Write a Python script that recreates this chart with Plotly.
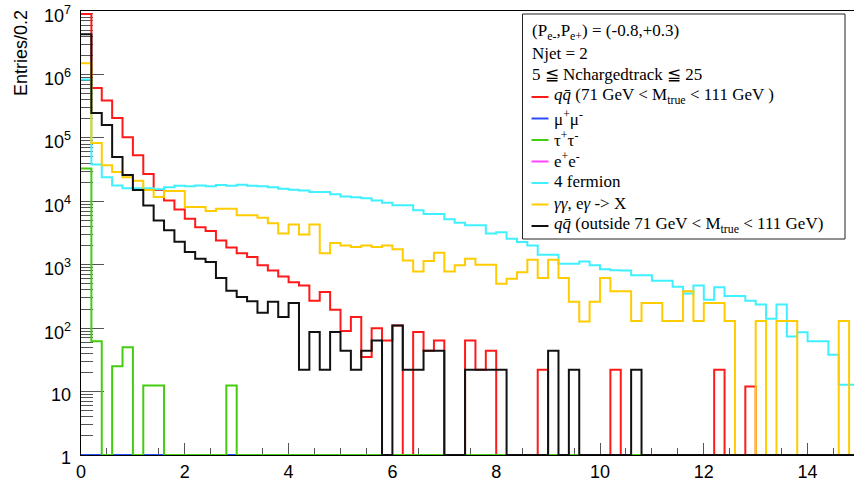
import numpy as np
import plotly.graph_objects as go

# ---------------- data (entries per 0.2 bin, 75 bins from 0 to 15) ----------------
BIN_WIDTH = 0.2
N_BINS = 75
bin_edges = np.round(np.arange(N_BINS + 1) * BIN_WIDTH, 6)

qq_inside = [
    9.0e6, 6.1e5, 3.9e5, 2.05e5, 1.02e5, 5.3e4, 2.7e4, 1.5e4, 1.03e4, 7.4e3,
    5.3e3, 3.9e3, 3.4e3, 2.4e3, 1.86e3, 1.52e3, 1.32e3, 9.8e2, 8.1e2, 6.5e2,
    5.3e2, 4.7e2, 2.7e2, 3.7e2, 1.95e2, 90, 150, 35, 100, 64,
    110, 0, 87, 44, 64, 0, 0, 64, 22, 44,
    0, 0, 0, 0, 22, 0, 0, 0, 0, 0,
    0, 22, 0, 0, 0, 0, 0, 0, 0, 0,
    0, 22, 0, 0, 12, 0, 0, 0, 0, 0,
    0, 0, 0, 0, 0,
]
mumu = [0] * N_BINS
tautau = [
    3.3e4, 62, 0, 25, 50, 0, 12.5, 12.5, 0, 0,
    0, 0, 0, 0, 12.5, 0, 0, 0, 0, 0,
] + [0] * 55
ee = [0] * N_BINS
four_fermion = [
    8.3e5, 3.8e4, 2.4e4, 1.78e4, 1.6e4, 1.6e4, 1.6e4, 1.55e4, 1.67e4, 1.76e4,
    1.72e4, 1.78e4, 1.72e4, 1.8e4, 1.76e4, 1.83e4, 1.76e4, 1.72e4, 1.67e4, 1.58e4,
    1.52e4, 1.48e4, 1.40e4, 1.40e4, 1.29e4, 1.19e4, 1.16e4, 1.12e4, 1.03e4, 9.5e3,
    8.7e3, 8.7e3, 7.2e3, 6.3e3, 6.3e3, 5.2e3, 4.6e3, 4.2e3, 4.2e3, 3.1e3,
    3.25e3, 2.57e3, 2.28e3, 2.0e3, 1.44e3, 1.44e3, 1.04e3, 1.04e3, 1.12e3, 9.8e2,
    8.5e2, 8.2e2, 8.1e2, 6.8e2, 6.8e2, 5.6e2, 5.6e2, 4.5e2, 3.5e2, 4.7e2,
    2.8e2, 4.4e2, 3.2e2, 3.2e2, 2.7e2, 2.35e2, 1.4e2, 2.35e2, 74, 86,
    62, 62, 38, 12.8, 12.8,
]
gamma_gamma = [
    1.5e6, 8.3e4, 3.7e4, 2.9e4, 2.4e4, 2.1e4, 1.5e4, 1.17e4, 1.45e4, 1.45e4,
    8.1e3, 8.1e3, 7.0e3, 7.6e3, 7.6e3, 6.0e3, 6.0e3, 5.5e3, 4.5e3, 3.1e3,
    4.3e3, 3.0e3, 4.3e3, 1.52e3, 2.2e3, 2.0e3, 1.9e3, 2.0e3, 1.9e3, 2.0e3,
    1.76e3, 1.17e3, 7.8e2, 1.14e3, 1.55e3, 7.8e2, 9.8e2, 1.24e3, 1.0e3, 1.0e3,
    5.0e2, 6.0e2, 7.6e2, 1.2e3, 6.2e2, 1.2e3, 6.2e2, 2.6e2, 1.27e2, 2.6e2,
    6.2e2, 3.8e2, 3.8e2, 1.29e2, 2.5e2, 2.5e2, 1.29e2, 1.29e2, 3.8e2, 1.29e2,
    2.5e2, 2.5e2, 1.29e2, 0, 0, 1.29e2, 0, 1.29e2, 1.29e2, 0,
    0, 0, 0, 1.29e2, 0,
]
qq_outside = [
    4.3e6, 2.46e5, 1.6e5, 5.0e4, 2.6e4, 1.5e4, 8.6e3, 5.0e3, 3.5e3, 2.3e3,
    1.58e3, 1.24e3, 1.1e3, 6.2e2, 3.9e2, 3.1e2, 2.65e2, 1.75e2, 2.6e2, 1.5e2,
    2.5e2, 22, 87, 22, 87, 44, 22, 44, 64, 0,
    110, 22, 22, 44, 44, 0, 0, 22, 22, 22,
    22, 0, 0, 0, 0, 44, 0, 22, 0, 0,
    0, 0, 0, 22, 0, 0, 0, 0, 0, 0,
] + [0] * 15

y_tick_decades = [0, 1, 2, 3, 4, 5, 6, 7]
y_tick_labels = ["1", "10", "10<sup>2</sup>", "10<sup>3</sup>", "10<sup>4</sup>",
                 "10<sup>5</sup>", "10<sup>6</sup>", "10<sup>7</sup>"]

header_lines = [
    "(P<sub>e-</sub>,P<sub>e+</sub>) = (-0.8,+0.3)",
    "Njet = 2",
    "5 \u2266 Nchargedtrack \u2266 25",
]
legend_labels = {
    "qq_inside": "<i>q</i><i>q\u0304</i> (71 GeV &lt; M<sub>true</sub> &lt; 111 GeV )",
    "mumu": "\u03bc<sup>+</sup>\u03bc<sup>-</sup>",
    "tautau": "\u03c4<sup>+</sup>\u03c4<sup>-</sup>",
    "ee": "e<sup>+</sup>e<sup>-</sup>",
    "four_fermion": "4 fermion",
    "gamma_gamma": "<i>\u03b3\u03b3</i>, e<i>\u03b3</i> -&gt; X",
    "qq_outside": "<i>q</i><i>q\u0304</i> (outside 71 GeV &lt; M<sub>true</sub> &lt; 111 GeV)",
}
y_axis_title = "Entries/0.2"

# ---------------- style ----------------
series = {
    "qq_inside": (qq_inside, "#ff1a1a"),
    "mumu": (mumu, "#2a4dff"),
    "tautau": (tautau, "#44cc11"),
    "ee": (ee, "#ff44ff"),
    "four_fermion": (four_fermion, "#3ff0ff"),
    "gamma_gamma": (gamma_gamma, "#ffcc00"),
    "qq_outside": (qq_outside, "#111111"),
}
legend_order = ["qq_inside", "mumu", "tautau", "ee", "four_fermion", "gamma_gamma", "qq_outside"]
draw_order = ["ee", "qq_inside", "mumu", "tautau", "four_fermion", "gamma_gamma", "qq_outside"]

W, H = 854, 495
L, R, T, B = 81, 0, 11, 40
PW, PH = W - L - R, H - T - B
Y_FLOOR = 1.0  # empty bins are drawn on the lower frame, as ROOT does


def pxx(xp):
    return (xp - L) / PW


def pxy(yp):
    return (H - B - yp) / PH


fig = go.Figure()
for key in draw_order:
    vals, col = series[key]
    v = np.maximum(np.asarray(vals, dtype=float), Y_FLOOR)
    fig.add_trace(go.Scatter(
        x=bin_edges, y=np.append(v, v[-1]), mode="lines",
        line=dict(color=col, width=2, shape="hv"),
        showlegend=False, hoverinfo="skip",
    ))

tick_font = dict(family="Liberation Sans Narrow, Liberation Sans, Arial", size=18, color="black")
fig.update_layout(
    template="none",
    width=W, height=H,
    margin=dict(l=L, r=R, t=T, b=B, pad=0, autoexpand=False),
    paper_bgcolor="white", plot_bgcolor="white",
    showlegend=False,
    xaxis=dict(
        range=[0, 14.894], tick0=0, dtick=2, showgrid=False, zeroline=False, automargin=False,
        showline=True, mirror=True, linecolor="black", linewidth=1,
        ticks="inside", ticklen=12, tickcolor="#555", tickwidth=1,
        minor=dict(dtick=0.5, ticks="inside", ticklen=7, tickcolor="#555", showgrid=False),
        tickfont=tick_font, layer="below traces", ticklabeloverflow="allow",
    ),
    yaxis=dict(
        type="log", range=[-0.0005, 7.0005], dtick=1, showgrid=False,
        zeroline=False, showline=True, linecolor="black", linewidth=1, automargin=False,
        ticks="inside", ticklen=23, tickcolor="#555", tickwidth=1,
        minor=dict(ticks="inside", ticklen=12, tickcolor="#555", showgrid=False),
        showticklabels=False, layer="below traces",
    ),
)

# y tick labels, placed at the decades on the log axis (ROOT puts them a bit low)
for d, lab in zip(y_tick_decades, y_tick_labels):
    fig.add_annotation(text=lab, xref="paper", yref="y", x=pxx(73), y=d,
                       xanchor="right", yanchor="middle", yshift=-3, showarrow=False,
                       font=tick_font)

# y-axis title (ROOT style, top aligned)
fig.add_annotation(
    text=y_axis_title, textangle=-90, xref="paper", yref="paper",
    x=pxx(21), y=pxy(53), xanchor="center", yanchor="middle", showarrow=False,
    font=dict(family="Liberation Sans, Arial", size=18, color="black"),
)

# legend box
fig.add_shape(type="rect", xref="paper", yref="paper",
              x0=pxx(522.5), x1=pxx(845), y0=pxy(239), y1=pxy(14),
              line=dict(color="#222", width=1), fillcolor="white", layer="above")
leg_font = dict(family="Liberation Serif, Times New Roman, DejaVu Serif, serif", size=17, color="black")
row_y0, row_dy = 31.5, 21.5
for i, txt in enumerate(header_lines):
    fig.add_annotation(text=txt, xref="paper", yref="paper", x=pxx(530), y=pxy(row_y0 + i * row_dy),
                       xanchor="left", yanchor="middle", showarrow=False, font=leg_font)
for j, key in enumerate(legend_order):
    yc = row_y0 + (len(header_lines) + j) * row_dy
    fig.add_shape(type="line", xref="paper", yref="paper",
                  x0=pxx(531.5), x1=pxx(548.5), y0=pxy(yc + 1), y1=pxy(yc + 1),
                  line=dict(color=series[key][1], width=2), layer="above")
    fig.add_annotation(text=legend_labels[key], xref="paper", yref="paper", x=pxx(551.5), y=pxy(yc),
                       xanchor="left", yanchor="middle", showarrow=False, font=leg_font)

fig.write_html(
    "out.html",
    config={"displayModeBar": False},
    post_script="document.body.style.margin='0';document.body.style.overflow='hidden';",
)
